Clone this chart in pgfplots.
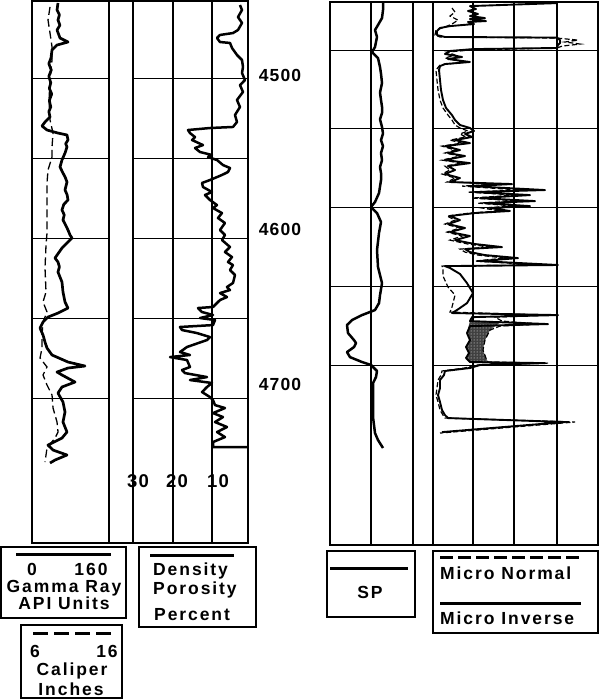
\documentclass[border=0pt]{standalone}
\usepackage{pgfplots}
\pgfplotsset{compat=1.18}
\usetikzlibrary{patterns}
\usepackage{fontspec}
\setmainfont{Liberation Sans}
\newfontfamily\lab[LetterSpace=11]{Liberation Sans}
\newfontfamily\labn[LetterSpace=6]{Liberation Sans}
\newcommand{\lf}{\lab\bfseries\fontsize{17.5}{19}\selectfont}
\newcommand{\df}{\labn\bfseries\fontsize{17.5}{19}\selectfont}
\newcommand{\scf}{\labn\bfseries\fontsize{18.5}{20}\selectfont}

\pgfplotsset{
  frame/.style={scale only axis, anchor=north west, ymin=0, ymax=1, ytick=\empty,
    xmajorgrids, grid style={line width=2pt, black}, xticklabels={},
    major tick length=0pt, axis line style={line width=2.4pt, black}},
  trk/.style={scale only axis, anchor=north west, y dir=reverse,
    ytick={4500,4550,...,4700}, ymajorgrids, grid style={line width=1pt, black},
    xtick=\empty, yticklabels={}, major tick length=0pt, axis line style={draw=none}},
  leftdepth/.style={ymin=4451.875, ymax=4790.6, height=542pt},
  rightdepth/.style={ymin=4469.5, ymax=4814.3, height=543pt},
}

\begin{document}
\begin{tikzpicture}
\useasboundingbox (0,0) rectangle (600pt,-700pt);

% ---------------- LEFT PANEL ----------------
\begin{axis}[frame, at={(32pt,-1pt)}, width=216pt, height=542pt, xmin=32, xmax=248, xtick={109,133,173,212}]
\end{axis}

% Gamma ray track
\begin{axis}[trk, leftdepth, at={(32pt,-1pt)}, width=77pt, xmin=0, xmax=160]
\addplot[black, line width=2.7pt, line join=round] coordinates {
(54.0,4453.1)(52.0,4457.5)(57.0,4460.5)(54.0,4463.75)(58.0,4467.0)(52.0,4470.0)(58.2,4475.0)(74.8,4477.5)(52.0,4479.4)(41.6,4482.5)(39.5,4487.5)(35.0,4491.0)(40.0,4495.0)(35.0,4499.0)(39.0,4503.0)(36.0,4506.5)(41.0,4510.0)(36.0,4514.0)(39.0,4518.1)(35.0,4521.0)(37.4,4524.4)(27.0,4527.5)(20.8,4530.0)(31.2,4532.5)(54.0,4534.4)(72.7,4535.6)(74.8,4538.75)(70.0,4541.0)(72.7,4543.1)(68.6,4546.9)(62.3,4551.25)(58.2,4555.6)(64.4,4559.4)(69.0,4562.0)(72.7,4565.0)(68.6,4570.0)(73.0,4573.0)(74.8,4576.25)(66.0,4579.0)(62.3,4582.5)(67.0,4585.5)(64.4,4588.75)(70.0,4592.0)(74.8,4595.0)(79.0,4598.1)(83.1,4600.0)(74.8,4602.5)(62.3,4606.25)(47.8,4612.5)(54.0,4615.0)(57.0,4618.0)(54.0,4621.25)(62.3,4627.5)(64.4,4633.75)(68.6,4640.0)(74.8,4643.75)(54.0,4646.9)(33.2,4649.4)(22.9,4652.5)(16.6,4656.25)(22.9,4660.6)(27.0,4665.0)(31.2,4668.75)(41.6,4673.1)(74.8,4677.5)(110.1,4680.0)(74.8,4681.25)(52.0,4683.75)(62.3,4685.6)(89.4,4690.0)(62.3,4693.1)(54.0,4696.9)(64.4,4702.5)(68.6,4708.75)(64.4,4715.0)(72.7,4721.25)(62.3,4725.0)(33.2,4729.4)(43.6,4732.5)(72.7,4735.6)(47.8,4738.75)(37.4,4740.6)
};
\end{axis}
% Caliper
\begin{axis}[trk, leftdepth, at={(32pt,-1pt)}, width=77pt, xmin=6, xmax=16, ymajorgrids=false]
\addplot[black, line width=1.3pt, dash pattern=on 8pt off 4pt] coordinates {
(8.34,4455.6)(8.08,4463.75)(8.34,4471.9)(8.60,4480.6)(8.60,4488.75)(8.34,4501.25)(8.21,4513.75)(8.34,4526.25)(8.73,4534.4)(8.60,4543.1)(8.60,4549.4)(8.08,4557.5)(7.95,4565.6)(7.95,4576.25)(7.95,4586.9)(7.95,4596.9)(7.82,4604.4)(7.69,4618.75)(7.82,4633.75)(7.43,4640.0)(7.95,4646.25)(7.43,4652.5)(7.30,4660.6)(7.30,4668.75)(7.04,4675.0)(7.95,4680.6)(7.43,4685.6)(7.95,4691.9)(8.60,4698.1)(8.73,4706.25)(9.25,4715.0)(9.38,4721.25)(8.99,4725.0)(7.95,4731.25)(7.69,4740.0)
};
\end{axis}

% Density porosity track
\begin{axis}[trk, leftdepth, at={(133pt,-1pt)}, width=115pt, xmin=0.88, xmax=30, x dir=reverse]
\addplot[black, line width=2.5pt, line join=round] coordinates {
(2.91,4454.4)(2.40,4457.5)(3.41,4461.9)(2.40,4465.6)(3.41,4470.0)(4.68,4471.9)(7.97,4473.1)(8.73,4475.0)(7.97,4477.5)(5.44,4478.1)(4.93,4481.25)(3.67,4485.6)(2.40,4488.75)(2.15,4493.1)(2.40,4496.9)(1.64,4501.25)(2.91,4504.4)(2.15,4508.75)(3.67,4513.75)(2.91,4518.1)(4.17,4523.1)(3.67,4527.5)(4.68,4530.6)(10.50,4531.25)(16.07,4532.5)(15.57,4534.4)(14.30,4536.9)(15.06,4538.75)(12.28,4541.9)(14.30,4543.75)(13.04,4546.25)(10.00,4548.1)(11.01,4549.4)(8.73,4551.25)(7.21,4554.4)(5.44,4556.25)(5.95,4558.75)(7.47,4560.6)(10.50,4563.75)(12.53,4565.6)(12.28,4568.1)(10.00,4571.25)(11.77,4573.1)(10.50,4576.25)(8.73,4579.4)(9.74,4581.25)(7.47,4584.4)(8.48,4587.5)(6.71,4590.6)(7.97,4595.0)(6.71,4598.1)(7.47,4601.25)(5.44,4605.6)(6.71,4608.75)(4.93,4611.9)(5.95,4615.0)(4.68,4616.9)(5.44,4620.0)(4.17,4623.1)(4.68,4628.1)(6.20,4630.6)(5.44,4632.5)(7.97,4634.4)(6.20,4636.9)(7.97,4638.75)(8.73,4640.6)(9.74,4643.1)(13.54,4643.75)(12.53,4646.25)(9.74,4648.1)(13.04,4650.0)(9.24,4651.25)(9.74,4654.4)(18.10,4655.6)(17.59,4657.5)(13.80,4659.4)(10.50,4661.9)(11.26,4663.75)(16.33,4668.1)(18.10,4671.25)(15.57,4673.1)(20.63,4674.4)(16.33,4676.25)(15.57,4680.6)(17.59,4682.5)(16.83,4684.4)(11.26,4686.9)(15.57,4688.75)(10.00,4690.6)(11.26,4693.1)(12.53,4696.25)(10.50,4699.4)(9.74,4701.25)(9.24,4704.4)(6.71,4706.25)(9.74,4709.4)(7.21,4711.9)(9.24,4715.0)(6.20,4718.1)(8.73,4721.25)(6.71,4724.4)(9.74,4727.5)(9.74,4730.6)(0.9,4730.6)
};
\end{axis}

% ---------------- RIGHT PANEL ----------------
\begin{axis}[frame, at={(330pt,-2pt)}, width=268pt, height=543pt, xmin=330, xmax=598, xtick={371,413,433,473,514,557}]
\end{axis}

% SP track
\begin{axis}[trk, rightdepth, at={(330pt,-2pt)}, width=83pt, xmin=-41, xmax=42]
\addplot[black, line width=2.5pt, line join=round] coordinates {
(12,4469.5)(12,4474.6)(11,4479.7)(7,4484.1)(4,4487.3)(6,4491.7)(4,4498.1)(1,4501.3)(7,4505.1)(9,4510.8)(10,4515.0)(11,4521.0)(9,4527.0)(10,4531.75)(11,4536.0)(11,4540.0)(9,4544.0)(11,4548.9)(12,4553.0)(10,4557.2)(12,4561.0)(10,4565.4)(11,4570.0)(9,4574.3)(10,4578.0)(10,4582.6)(8,4590.8)(4,4596.5)(0,4599.7)(6,4603.5)(10,4609.2)(8,4616.2)(6,4627.0)(7,4637.8)(11,4648.0)(9,4655.6)(8,4660.7)(4,4665.1)(-9,4668.3)(-19,4671.45)(-24,4674.6)(-23,4679.7)(-17,4684.2)(-15,4686.1)(-17,4688.6)(-24,4691.8)(-21,4695.0)(-9,4698.1)(0,4700.0)(6,4703.8)(5,4707.6)(2,4711.5)(2,4722.25)(2,4733.0)(4,4743.2)(7,4747.65)(12,4752.7)
};
\end{axis}

% Micro log tracks
\begin{axis}[trk, rightdepth, at={(433pt,-2pt)}, width=165pt, xmin=0, xmax=20]
% stippled separation
\addplot[draw=none, fill=black!75] coordinates {
(8.36,4672.1)(6.91,4677.8)(6.30,4684.2)(6.06,4690.5)(6.42,4695.6)(6.67,4698.1)(4.48,4698.1)(4.00,4695.6)(4.36,4692.4)(4.00,4688.6)(4.48,4684.2)(4.12,4679.7)(4.48,4672.1)} -- cycle;
\addplot[draw=none, pattern=dots, pattern color=white] coordinates {
(8.36,4672.1)(6.91,4677.8)(6.30,4684.2)(6.06,4690.5)(6.42,4695.6)(6.67,4698.1)(4.48,4698.1)(4.00,4695.6)(4.36,4692.4)(4.00,4688.6)(4.48,4684.2)(4.12,4679.7)(4.48,4672.1)} -- cycle;
% micro normal (dashed)
\addplot[black, line width=1.2pt, dash pattern=on 5pt off 2.5pt] coordinates {
(2.30,4473.3)(2.67,4475.9)(2.06,4478.4)(3.03,4481.0)(2.30,4483.5)(1.45,4485.4)(0.36,4487.3)(0.24,4490.5)(0.85,4491.7)(15.03,4492.4)(17.58,4493.7)(16.0,4494.9)(17.82,4496.2)(15.64,4497.5)(15.03,4498.7)(4.48,4500.0)(1.70,4501.3)(2.67,4503.2)(1.45,4505.1)(3.88,4507.6)(0.85,4509.5)(0.36,4512.7)(0.48,4519.1)(0.61,4525.4)(0.85,4531.75)(1.21,4536.8)(1.82,4541.3)(2.30,4544.45)(2.67,4547.6)(3.27,4549.5)(4.24,4551.4)(3.27,4553.3)(4.00,4555.2)(2.06,4557.2)(3.52,4559.1)(1.09,4561.0)(2.67,4563.5)(1.45,4565.4)(3.27,4567.3)(1.09,4569.9)(3.52,4571.8)(1.45,4573.7)(2.06,4576.2)(1.09,4578.7)(2.67,4581.3)(1.70,4583.8)(8.12,4585.1)(3.52,4586.4)(10.55,4588.9)(4.24,4590.2)(9.94,4592.1)(4.73,4594.0)(10.55,4595.9)(5.45,4597.2)(9.94,4599.1)(5.94,4600.3)(8.12,4602.2)(4.48,4603.5)(1.70,4605.4)(2.67,4608.0)(1.45,4610.5)(3.27,4613.0)(1.70,4615.6)(3.52,4618.1)(2.06,4620.7)(4.24,4623.2)(6.91,4625.1)(3.27,4626.4)(3.88,4628.3)(5.45,4630.2)(8.73,4632.1)(5.09,4634.0)(12.97,4636.5)(1.09,4637.2)(1.21,4638.4)(1.21,4643.5)(1.82,4650.5)(2.67,4655.6)(2.30,4663.2)(2.06,4666.4)(13.58,4668.3)(7.52,4669.6)(8.36,4672.1)(12.97,4674.0)(8.12,4675.3)(6.91,4677.8)(6.30,4684.2)(6.06,4690.5)(6.42,4695.6)(6.67,4698.1)(13.94,4698.8)(5.09,4700.0)(3.88,4701.9)(1.09,4703.8)(0.97,4706.4)(0.61,4709.55)(0.48,4714.6)(0.36,4719.1)(0.61,4723.5)(0.85,4728.6)(1.21,4731.8)(1.45,4733.7)(17.21,4736.2)(0.85,4743.2)
};
% micro inverse (solid)
\addplot[black, line width=1.9pt, line join=round] coordinates {
(15.03,4470.2)(4.48,4472.1)(5.21,4474.0)(4.24,4475.2)(5.45,4477.1)(4.48,4478.4)(6.30,4479.7)(4.48,4480.3)(6.42,4481.6)(4.24,4482.2)(4.97,4483.5)(2.06,4484.8)(0.85,4486.0)(0.48,4488.0)(0.48,4490.5)(1.45,4491.7)(15.03,4492.1)(15.39,4493.7)(15.39,4495.6)(15.15,4496.8)(15.03,4498.7)(4.85,4499.4)(2.06,4500.6)(1.45,4502.5)(3.52,4504.4)(1.82,4505.7)(4.48,4507.6)(1.45,4508.9)(0.85,4510.2)(0.73,4512.7)(0.85,4519.1)(0.97,4525.4)(1.21,4531.75)(1.58,4536.8)(2.30,4541.3)(2.67,4544.45)(3.27,4547.6)(4.48,4549.5)(4.97,4551.4)(3.88,4553.3)(4.73,4555.2)(2.67,4557.2)(4.48,4559.1)(1.45,4561.0)(3.27,4563.5)(1.82,4565.4)(3.88,4567.3)(1.45,4569.9)(4.48,4571.8)(1.82,4573.7)(2.67,4576.2)(1.45,4578.7)(3.27,4581.3)(2.06,4583.8)(9.58,4585.1)(4.48,4586.4)(13.58,4588.9)(5.09,4590.2)(11.76,4592.1)(5.70,4594.0)(12.36,4595.9)(6.30,4597.2)(11.76,4599.1)(6.91,4600.3)(9.33,4602.2)(5.09,4603.5)(2.06,4605.4)(3.27,4608.0)(1.82,4610.5)(3.88,4613.0)(2.06,4615.6)(4.48,4618.1)(2.67,4620.7)(5.09,4623.2)(8.36,4625.1)(3.88,4626.4)(4.48,4628.3)(6.30,4630.2)(10.30,4632.1)(5.70,4634.0)(15.15,4636.5)(1.45,4637.2)(2.06,4638.4)(3.27,4642.2)(4.12,4648.0)(4.85,4654.3)(4.12,4660.7)(2.91,4665.1)(2.30,4667.0)(15.15,4668.3)(4.73,4669.6)(4.48,4672.1)(13.94,4674.0)(4.48,4675.3)(4.12,4679.7)(4.48,4684.2)(4.00,4688.6)(4.36,4692.4)(4.00,4695.6)(4.48,4698.1)(13.58,4698.8)(5.70,4700.0)(4.48,4701.9)(1.45,4703.8)(1.33,4706.4)(0.85,4709.55)(0.85,4714.6)(0.61,4719.1)(0.85,4723.5)(1.09,4728.6)(1.45,4731.8)(1.82,4733.7)(16.0,4736.2)(1.09,4742.6)
};
\end{axis}

% ---------------- LABELS AND LEGEND BOXES ----------------
\begin{scope}[x=1pt, y=-1pt, every node/.style={inner sep=0pt}]
% depth labels
\node[anchor=base, font=\df] at (280,82) {4500};
\node[anchor=base, font=\df] at (280,236) {4600};
\node[anchor=base, font=\df] at (280,390) {4700};
% porosity scale
\node[anchor=base, font=\scf] at (138,487) {30};
\node[anchor=base, font=\scf] at (177,487) {20};
\node[anchor=base, font=\scf] at (218,487) {10};

% Gamma ray box
\draw[line width=1.5pt] (1,547) rectangle (126,618);
\draw[line width=3pt] (16,554) -- (111,554);
\node[anchor=base, font=\lf] at (32,575) {0};
\node[anchor=base, font=\lf] at (91,575) {160};
\node[anchor=base, font=\lf] at (64,592) {Gamma Ray};
\node[anchor=base, font=\lf] at (64,609) {API Units};
% Caliper box
\draw[line width=1.5pt] (21,625) rectangle (122,698);
\draw[line width=3pt, dash pattern=on 15pt off 6pt] (33,633) -- (112,633);
\node[anchor=base, font=\lf] at (35,657) {6};
\node[anchor=base, font=\lf] at (107,657) {16};
\node[anchor=base, font=\lf] at (72,675) {Caliper};
\node[anchor=base, font=\lf] at (71,695) {Inches};
% Density box
\draw[line width=1.5pt] (139,547) rectangle (256,627);
\draw[line width=3pt] (150,555) -- (234,555);
\node[anchor=base west, font=\lf] at (153,575) {Density};
\node[anchor=base west, font=\lf] at (153,594) {Porosity};
\node[anchor=base west, font=\lf] at (154,620) {Percent};
% SP box
\draw[line width=1.5pt] (327,551) rectangle (415,617);
\draw[line width=3pt] (330,568) -- (408,568);
\node[anchor=base, font=\lf] at (370,598) {SP};
% Micro box
\draw[line width=1.5pt] (433,551) rectangle (598,633);
\draw[line width=3pt, dash pattern=on 13pt off 5pt] (440,557) -- (580,557);
\node[anchor=base west, font=\lf] at (440,579) {Micro Normal};
\draw[line width=3pt] (440,603) -- (581,603);
\node[anchor=base west, font=\lf] at (440,624) {Micro Inverse};
\end{scope}
\end{tikzpicture}
\end{document}
